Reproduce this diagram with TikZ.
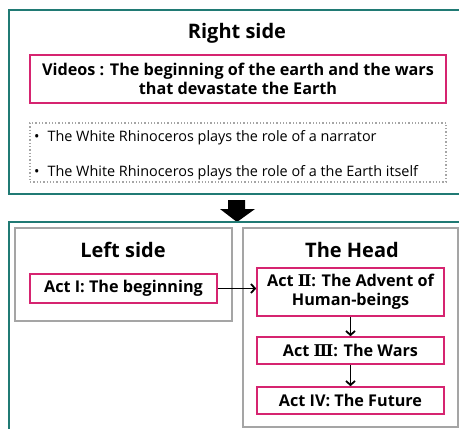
\documentclass[tikz,border=0pt]{standalone}
\usepackage{fontspec}
\setmainfont{Open Sans}
\newfontfamily\romfont{DejaVu Serif}
\usetikzlibrary{arrows.meta, positioning}
\definecolor{frameteal}{RGB}{32,122,116}
\definecolor{actpink}{RGB}{214,36,112}
\definecolor{boxgray}{RGB}{165,165,165}
\tikzset{
    frame/.style={draw=frameteal, line width=1.6pt},
    panel/.style={draw=boxgray, line width=1.3pt, inner sep=0pt},
    title/.style={font=\fontsize{20}{23}\selectfont\bfseries},
    actbox/.style={draw=actpink, line width=1.6pt, align=center, inner sep=0pt,
        font=\fontsize{16.2}{19}\selectfont\bfseries},
    bullet/.style={anchor=west, inner sep=0pt, font=\fontsize{14.4}{17}\selectfont},
    flow/.style={-{Straight Barb[length=4pt, width=9pt]}, line width=1.8pt}
}
\newcommand{\Rtwo}{{\romfont\bfseries Ⅱ}}
\newcommand{\Rthree}{{\romfont\bfseries Ⅲ}}

\begin{document}
\begin{tikzpicture}[x=1pt, y=-1pt]
    \useasboundingbox (0,0) rectangle (459,429);
    \clip (0,0) rectangle (459,429);
    \fill[white] (0,0) rectangle (459,429);
    % Upper frame
    \draw[frame] (9,10) rectangle (480,194);
    \node[title] (righttitle) at (237,33) {Right side};
    \node[actbox, minimum width=416pt, minimum height=48pt] (videos) at (238,79)
        {Videos : The beginning of the earth and the wars\\that devastate the Earth};
    \node[draw=boxgray, dotted, line width=1.3pt, minimum width=416pt,
        minimum height=59pt] (notes) at (238,152.5) {};
    \node[bullet] (noteone) at (34,138) {\textbullet\hspace{8pt}The White Rhinoceros plays the role of a narrator};
    \node[bullet] (notetwo) at (34,172.5) {\textbullet\hspace{8pt}The White Rhinoceros plays the role of a the Earth itself};
    % Block arrow between frames
    \fill (228,200) -- (245,200) -- (245,209) -- (255,209) -- (237,222)
        -- (220,209) -- (228,209) -- cycle;
    % Lower frame
    \draw[frame] (9,222) rectangle (480,450);
    \node[panel, minimum width=217pt, minimum height=93pt] (leftpanel) at (123.5,274.5) {};
    \node[panel, minimum width=215pt, minimum height=199pt] (headpanel) at (350.5,327.5) {};
    \node[title] (lefttitle) at (123,250) {Left side};
    \node[title] (headtitle) at (352,250) {The Head};
    % Acts
    \node[actbox, minimum width=187pt, minimum height=29pt] (actone) at (123.5,288.5)
        {Act I: The beginning};
    \node[actbox, minimum width=187pt, minimum height=48pt] (acttwo) at (350.5,292)
        {Act \Rtwo: The Advent of\\Human-beings};
    \node[actbox, minimum width=187pt, minimum height=27pt] (actthree) at (350.5,350.5)
        {Act \Rthree: The Wars};
    \node[actbox, minimum width=187pt, minimum height=27pt] (actfour) at (350.5,400.5)
        {Act IV: The Future};
    \draw[flow] (actone.east) -- (actone.east -| acttwo.west);
    \draw[flow] (acttwo.south) -- (actthree.north);
    \draw[flow] (actthree.south) -- (actfour.north);
\end{tikzpicture}
\end{document}
